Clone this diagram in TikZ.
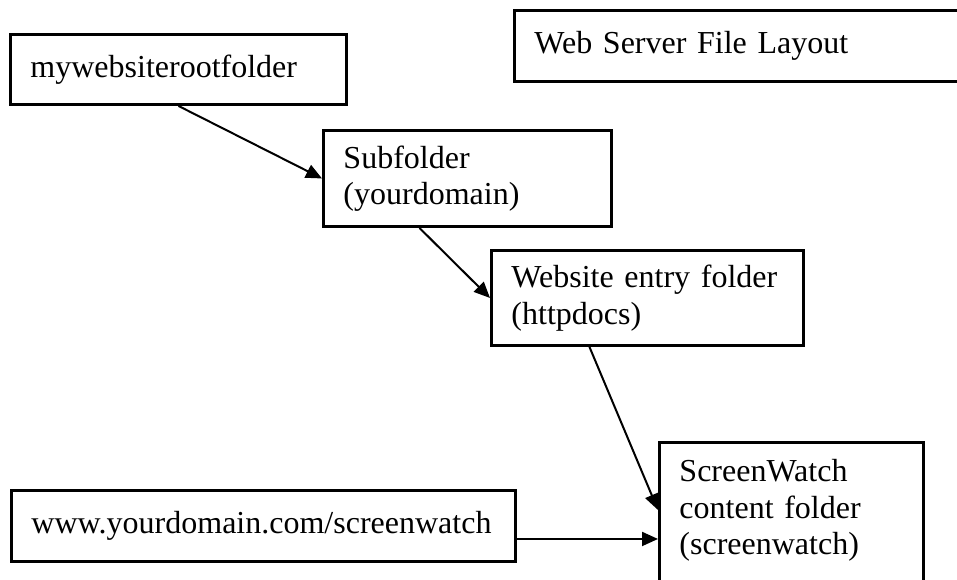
\documentclass[tikz,border=0pt]{standalone}
\usepackage{fontspec}
\setmainfont{Liberation Serif}
\usetikzlibrary{arrows.meta}

\tikzset{
  folder/.style={draw, line width=2.2pt, anchor=north west, inner xsep=15pt, inner ysep=2pt,
    align=left, font=\fontsize{24}{27.4}\selectfont},
  link/.style={line width=1.5pt, -{Triangle[length=12pt, width=10.5pt]}}
}

\begin{document}
\begin{tikzpicture}
  \useasboundingbox (0pt,0pt) rectangle (717.75pt,-434.25pt);

  \node[folder, text width=222pt, minimum height=52.5pt] (root) at (6.75pt,-24.75pt) {mywebsiterootfolder};
  \node[folder, text width=320pt, minimum height=53.25pt] (title) at (384.75pt,-6.75pt) {Web Server File Layout};
  \node[folder, text width=186pt, minimum height=72pt] (sub) at (241.5pt,-96.75pt) {Subfolder\\(yourdomain)};
  \node[folder, text width=204pt, minimum height=71.25pt] (entry) at (367.5pt,-186.75pt) {Website entry folder\\(httpdocs)};
  \node[folder, text width=168pt, inner ysep=12.75pt, text depth=150pt] (sw) at (493.5pt,-330.75pt) {ScreenWatch\\content folder\\(screenwatch)};
  \node[folder, text width=348pt, minimum height=53.25pt] (www) at (7.5pt,-366.75pt) {www.yourdomain.com/screenwatch};

  \draw[link] (root.south) -- (sub.west);
  \draw[link] ([xshift=-36pt]sub.south) -- (entry.west);
  \draw[link] ([xshift=-43.5pt]entry.south) -- ([yshift=-51.75pt]sw.north west);
  \draw[link] ([yshift=-9.75pt]www.east) -- ([yshift=-9.75pt]www.east -| sw.west);
\end{tikzpicture}
\end{document}
